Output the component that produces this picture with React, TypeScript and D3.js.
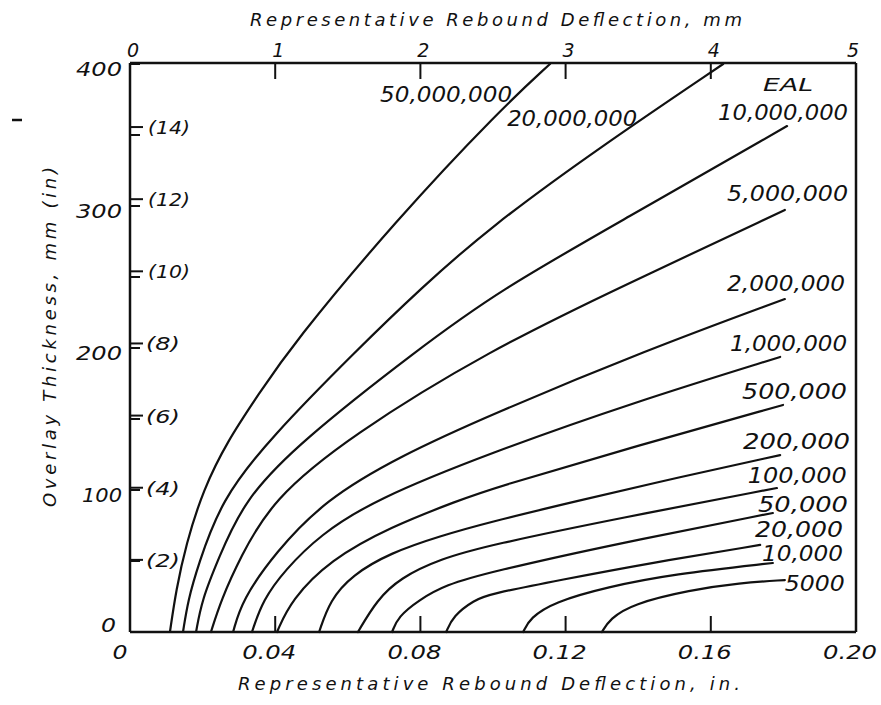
import React from "react";
import * as d3 from "d3";

// EAL curve labels (top-left curve first)
const ealLabels = [
  "50,000,000", "20,000,000", "10,000,000", "5,000,000", "2,000,000", "1,000,000",
  "500,000", "200,000", "100,000", "50,000", "20,000", "10,000", "5000",
];

// Each curve: [rebound deflection (in), overlay thickness (mm)]
const c50M: [number, number][] = [[0.0110, 0], [0.0127, 29.6], [0.0154, 61.3], [0.0201, 100], [0.0270, 135.2], [0.0353, 166.9], [0.0446, 202.1], [0.0733, 290.1], [0.1019, 367.6], [0.1157, 400]];
const c20M: [number, number][] = [[0.0146, 0], [0.0160, 22.5], [0.0187, 46.5], [0.0251, 93], [0.0386, 136.6], [0.0625, 198.6], [0.0799, 241.5], [0.0992, 285.2], [0.1295, 341.5], [0.1634, 400]];
const c10M: [number, number][] = [[0.0182, 0], [0.0198, 22.5], [0.0242, 50.7], [0.0314, 93], [0.0468, 133.8], [0.0791, 198.6], [0.1019, 240.8], [0.1358, 290.1], [0.1810, 356.3]];
const c5M: [number, number][] = [[0.0223, 0], [0.0251, 22.5], [0.0303, 52.1], [0.0391, 93], [0.0606, 138], [0.0992, 198.6], [0.1358, 243.7], [0.1804, 297.2]];
const c2M: [number, number][] = [[0.0284, 0], [0.0309, 22.5], [0.0399, 55.6], [0.0537, 93], [0.0744, 123.9], [0.0992, 152.8], [0.1424, 198.6], [0.1804, 234.5]];
const c1M: [number, number][] = [[0.0336, 0], [0.0366, 22.5], [0.0427, 43.7], [0.0523, 68.3], [0.0672, 93], [0.0992, 126.1], [0.1391, 162], [0.1791, 193.7]];
const c500k: [number, number][] = [[0.0405, 0], [0.0444, 22.5], [0.0551, 50.7], [0.0716, 73.9], [0.0909, 93], [0.0992, 100.7], [0.1405, 131.7], [0.1799, 159.9]];
const c200k: [number, number][] = [[0.0521, 0], [0.0551, 22.5], [0.0612, 40.1], [0.0716, 55.6], [0.0854, 67.6], [0.0992, 77.5], [0.1220, 91.5], [0.1515, 109.2], [0.1791, 124.6]];
const c100k: [number, number][] = [[0.0628, 0], [0.0680, 22.5], [0.0744, 38], [0.0854, 51.4], [0.0992, 61.3], [0.1350, 80.3], [0.1782, 101.4]];
const c50k: [number, number][] = [[0.0722, 0], [0.0738, 10.6], [0.0796, 22.5], [0.0868, 33.1], [0.0992, 42.3], [0.1350, 62.7], [0.1771, 83.8]];
const c20k: [number, number][] = [[0.0871, 0], [0.0890, 11.3], [0.0948, 22.5], [0.0992, 26.8], [0.1185, 36.6], [0.1433, 48.6], [0.1736, 61.3]];
const c10k: [number, number][] = [[0.1083, 0], [0.1102, 9.9], [0.1168, 21.1], [0.1314, 31.7], [0.1496, 40.8], [0.1771, 48.6]];
const c5k: [number, number][] = [[0.1300, 0], [0.1322, 9.2], [0.1383, 19.7], [0.1543, 29.6], [0.1680, 34.5], [0.1804, 36.6]];

const curves = [c50M, c20M, c10M, c5M, c2M, c1M, c500k, c200k, c100k, c50k, c20k, c10k, c5k];

// Axes
const xTicksIn = [0.04, 0.08, 0.12, 0.16];
const xTickLabelsIn = ["0", "0.04", "0.08", "0.12", "0.16", "0.20"];
const xTickValuesIn = [0, 0.04, 0.08, 0.12, 0.16, 0.2];
const xTicksMm = [1, 2, 3, 4];
const xTickLabelsMm = ["0", "1", "2", "3", "4", "5"];
const yTicksMm = [0, 100, 200, 300, 400];
const yMinorMm = [50, 100, 150, 200, 250, 300, 350, 400];
const yTicksInch = [2, 4, 6, 8, 10, 12, 14];

export default function App() {
  const W = 881, H = 705;
  const x = d3.scaleLinear().domain([0, 0.2]).range([130, 856]);
  const xMm = d3.scaleLinear().domain([0, 5]).range([130, 856]);
  const y = d3.scaleLinear().domain([0, 400]).range([632, 64]);

  const line = d3
    .line<[number, number]>()
    .x((d) => x(d[0]))
    .y((d) => y(d[1]))
    .curve(d3.curveBasis);

  // label anchors in data units: [deflection in, thickness mm, textLength px]
  const labelAnchors: [number, number, number][] = [
    [0.0689, 373.2, 132], [0.1039, 356.3, 130], [0.1620, 360.6, 130], [0.1645, 303.5, 121],
    [0.1645, 240.1, 118], [0.1653, 197.9, 117], [0.1686, 164.1, 105], [0.1689, 128.9, 107],
    [0.1702, 104.9, 99], [0.1730, 84.5, 90], [0.1722, 66.9, 88], [0.1741, 50, 81], [0.1804, 28.9, 60],
  ];

  const font = "'DejaVu Sans', 'Liberation Sans', sans-serif";
  const ink = "#111";
  const numLen = (s: string) => (s.length === 1 ? 15 : s.length === 3 ? (s === "100" ? 40 : 46) : 54);

  return (
    <svg
      width={W}
      height={H}
      style={{ position: "absolute", left: 0, top: 0, background: "#fff" }}
      fontFamily={font}
      fontStyle="italic"
      fill={ink}
    >
      <rect x={0} y={0} width={W} height={H} fill="#fff" />

      {/* frame */}
      <g stroke={ink} strokeWidth={2.5} fill="none">
        <line x1={x(0)} y1={y(0)} x2={x(0.2)} y2={y(0)} />
        <line x1={x(0)} y1={y(0)} x2={x(0)} y2={63} />
        <line x1={x(0)} y1={63} x2={x(0.2)} y2={63} />
        <line x1={x(0.2)} y1={63} x2={x(0.2)} y2={y(0)} />
      </g>

      {/* ticks (inside) */}
      <g stroke={ink} strokeWidth={2}>
        {xTicksIn.map((t) => (
          <line key={t} x1={x(t)} x2={x(t)} y1={y(0)} y2={y(0) - 16} />
        ))}
        {xTicksMm.map((t) => (
          <line key={"m" + t} x1={xMm(t)} x2={xMm(t)} y1={63} y2={79} />
        ))}
        {yMinorMm.map((t) => (
          <line key={"y" + t} x1={x(0)} x2={x(0) + 10} y1={y(t)} y2={y(t)} />
        ))}
        {yTicksInch.map((t) => (
          <line key={"i" + t} x1={x(0)} x2={x(0) + 13} y1={y(t * 25.4)} y2={y(t * 25.4)} />
        ))}
      </g>

      {/* curves */}
      <g stroke={ink} strokeWidth={2.2} fill="none" strokeLinecap="round">
        {curves.map((c, i) => (
          <path key={i} d={line(c) || ""} />
        ))}
      </g>

      {/* curve labels */}
      <g fontSize={21}>
        {ealLabels.map((l, i) => (
          <text
            key={l}
            x={x(labelAnchors[i][0])}
            y={y(labelAnchors[i][1])}
            textLength={labelAnchors[i][2]}
            lengthAdjust="spacingAndGlyphs"
          >
            {l}
          </text>
        ))}
        <text x={x(0.1744)} y={y(381)} textLength={50} lengthAdjust="spacingAndGlyphs" fontSize={18}>
          EAL
        </text>
      </g>

      {/* bottom / top tick labels */}
      <g fontSize={19}>
        {xTickLabelsIn.map((l, i) => {
          const w = numLen(l);
          const cx = x(xTickValuesIn[i]) - (i === 0 ? 10 : 6);
          return (
            <text key={l} x={cx - w / 2} y={659} textLength={w} lengthAdjust="spacingAndGlyphs">
              {l}
            </text>
          );
        })}
        {xTickLabelsMm.map((l, i) => (
          <text key={"mm" + l} x={xMm(i) + (i === 5 ? -3 : 3)} y={57} textAnchor="middle">
            {l}
          </text>
        ))}
      </g>

      {/* left tick labels */}
      <g fontSize={19}>
        {yTicksMm.map((t) => {
          const s = String(t);
          const w = numLen(s);
          const right = t === 0 ? 116 : 122;
          const dy = t === 0 ? 0 : 12;
          return (
            <text key={t} x={right - w} y={y(t) + dy} textLength={w} lengthAdjust="spacingAndGlyphs">
              {s}
            </text>
          );
        })}
      </g>
      <g fontSize={18}>
        {yTicksInch.map((t) => (
          <text
            key={t}
            x={x(0) + (t >= 10 ? 18 : 16)}
            y={y(t * 25.4) + 7}
            textLength={t >= 10 ? 42 : 34}
            lengthAdjust="spacingAndGlyphs"
          >
            ({t})
          </text>
        ))}
      </g>

      {/* titles */}
      <text x={250} y={26} fontSize={18} textLength={492} lengthAdjust="spacing">
        Representative Rebound Deflection, mm
      </text>
      <text x={238} y={690} fontSize={18} textLength={502} lengthAdjust="spacing">
        Representative Rebound Deflection, in.
      </text>
      <text
        transform="translate(56, 507) rotate(-90)"
        fontSize={18}
        textLength={340}
        lengthAdjust="spacing"
      >
        Overlay Thickness, mm (in)
      </text>

      {/* stray mark in the scan */}
      <line x1={12} x2={22} y1={120} y2={120} stroke={ink} strokeWidth={2.5} />
    </svg>
  );
}
